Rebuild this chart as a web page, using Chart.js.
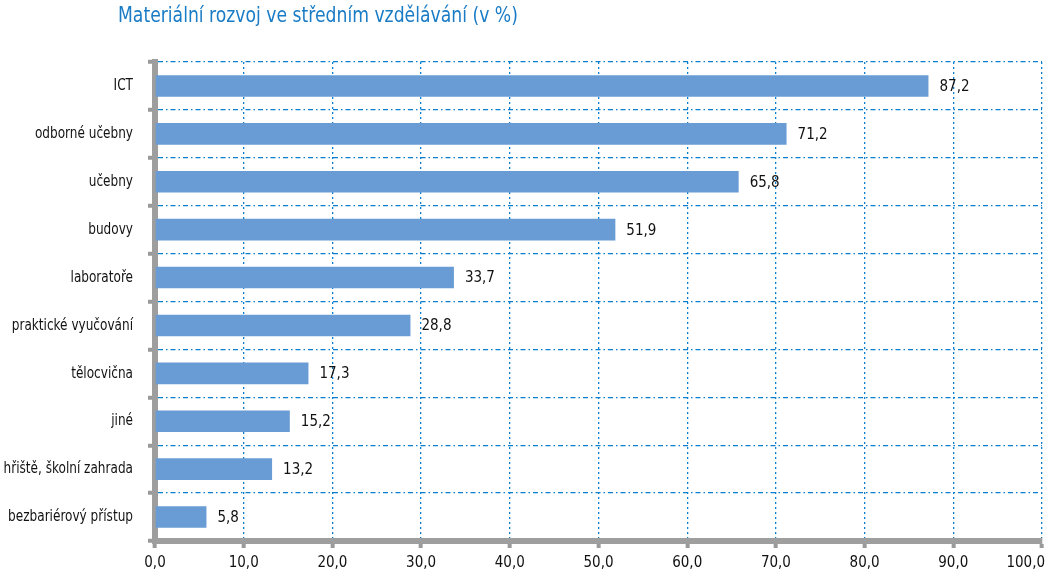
<!DOCTYPE html>
<html>
<head>
<meta charset="utf-8">
<script src="https://cdn.jsdelivr.net/npm/chart.js@4"></script>
<style>
  html, body { margin: 0; padding: 0; background: #fff; }
  #wrap { width: 1051px; height: 578px; position: relative; }
</style>
</head>
<body>
<div id="wrap"><canvas id="chart"></canvas></div>
<script>
// Data
const titleText = 'Materiální rozvoj ve středním vzdělávání (v %)';
const categories = ['ICT', 'odborné učebny', 'učebny', 'budovy', 'laboratoře',
  'praktické vyučování', 'tělocvična', 'jiné', 'hřiště, školní zahrada', 'bezbariérový přístup'];
const values = [87.2, 71.2, 65.8, 51.9, 33.7, 28.8, 17.3, 15.2, 13.2, 5.8];
const xTicks = [0, 10, 20, 30, 40, 50, 60, 70, 80, 90, 100];

const FONT = "'Liberation Sans Narrow', 'DejaVu Sans Condensed', 'Roboto Condensed', sans-serif";
const fmt = v => v.toFixed(1).replace('.', ',');

// squeezed text helper (the original uses a condensed face)
function narrowText(ctx, text, x, y, sx, align) {
  ctx.save();
  ctx.translate(x, y);
  ctx.scale(sx, 1);
  ctx.textAlign = align;
  ctx.fillText(text, 0, 0);
  ctx.restore();
}

// title drawn at top-left
const titlePlugin = {
  id: 'titleText',
  afterDraw(chart) {
    const ctx = chart.ctx;
    ctx.save();
    ctx.font = '22px ' + FONT;
    ctx.fillStyle = '#1b7cc6';
    ctx.textBaseline = 'middle';
    narrowText(ctx, titleText, 118, 16, 0.87, 'left');
    ctx.restore();
  }
};

// axis labels (category names and x ticks)
const axisLabels = {
  id: 'axisLabels',
  afterDraw(chart) {
    const ctx = chart.ctx;
    const y = chart.scales.y;
    const x = chart.scales.x;
    ctx.save();
    ctx.font = '16px ' + FONT;
    ctx.fillStyle = '#111';
    ctx.textBaseline = 'middle';
    categories.forEach((c, i) => {
      narrowText(ctx, c, 133, y.getPixelForTick(i), 0.84, 'right');
    });
    ctx.font = '15px ' + FONT;
    xTicks.forEach(v => {
      const t = fmt(v);
      const w = ctx.measureText(t).width;
      let px = x.getPixelForValue(v);
      px = Math.min(px, chart.width - 6 - w / 2);
      ctx.textAlign = 'center';
      ctx.fillText(t, px, 563);
    });
    ctx.restore();
  }
};

// value labels at the end of each bar
const valueLabels = {
  id: 'valueLabels',
  afterDatasetsDraw(chart) {
    const ctx = chart.ctx;
    const meta = chart.getDatasetMeta(0);
    ctx.save();
    ctx.font = '15px ' + FONT;
    ctx.fillStyle = '#111';
    ctx.textBaseline = 'middle';
    meta.data.forEach((bar, i) => {
      ctx.fillText(fmt(values[i]), bar.x + 11, bar.y + 1);
    });
    ctx.restore();
  }
};

new Chart(document.getElementById('chart'), {
  type: 'bar',
  data: {
    labels: categories,
    datasets: [{
      data: values,
      backgroundColor: '#699cd4',
      barPercentage: 0.45,
      categoryPercentage: 1
    }]
  },
  options: {
    indexAxis: 'y',
    responsive: true,
    maintainAspectRatio: false,
    animation: false,
    layout: { padding: { top: 62, right: 9, left: 0, bottom: 0 } },
    plugins: {
      legend: { display: false },
      tooltip: { enabled: false }
    },
    scales: {
      x: {
        min: 0,
        max: 100,
        ticks: {
          stepSize: 10,
          color: 'rgba(0,0,0,0)',
          font: { family: FONT, size: 15 },
          padding: 8,
          maxRotation: 0
        },
        grid: {
          color: '#0a7fd0',
          lineWidth: 1.3,
          tickColor: '#9a9a9a',
          tickWidth: 4,
          tickLength: 7,
          tickBorderDash: [1, 0]
        },
        border: { color: '#9e9e9e', width: 6, dash: [2, 3] },
        afterFit(scale) { scale.height = 578 - 541; scale.paddingRight = 0; }
      },
      y: {
        ticks: {
          color: 'rgba(0,0,0,0)',
          font: { family: FONT, size: 14 }
        },
        grid: {
          offset: true,
          color: '#0a7fd0',
          lineWidth: 1.3,
          tickColor: '#9a9a9a',
          tickWidth: 4,
          tickLength: 7,
          tickBorderDash: [1, 0]
        },
        border: { color: '#9e9e9e', width: 6, dash: [5, 3, 1.5, 3] },
        afterFit(scale) { scale.width = 155; }
      }
    }
  },
  plugins: [titlePlugin, axisLabels, valueLabels]
});
</script>
</body>
</html>
